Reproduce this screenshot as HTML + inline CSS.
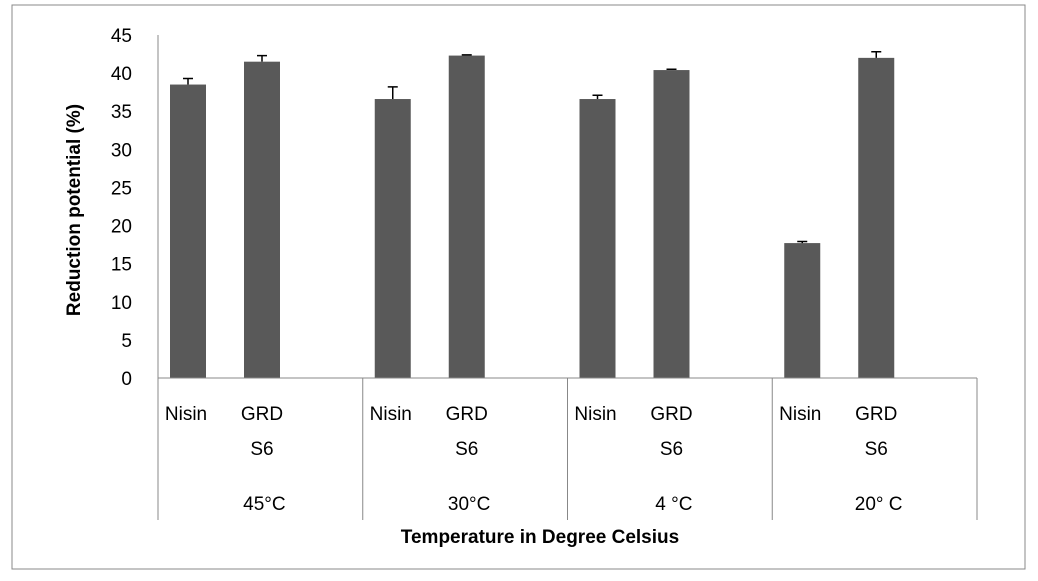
<!DOCTYPE html>
<html><head><meta charset="utf-8"><style>
body{margin:0;background:#fff;}
svg text{font-family:"Liberation Sans",sans-serif;fill:#000;}
</style></head><body>
<svg width="1038" height="576">
<rect x="12" y="5" width="1013" height="564" fill="#fff" stroke="#888" stroke-width="1"/>
<g id="yaxis"></g>
<g id="bars"></g>
<g id="xaxis"></g>
<text x="80" y="210" font-size="19" font-weight="bold" text-anchor="middle" transform="rotate(-90 80 210)">Reduction potential (%)</text>
<text x="540" y="543" font-size="19" font-weight="bold" text-anchor="middle">Temperature in Degree Celsius</text>
</svg>
<script>
const groups=["45°C","30°C","4 °C","20° C"];
const nisin=[38.5,36.6,36.6,17.7];
const nisinErr=[0.8,1.6,0.5,0.2];
const grd=[41.5,42.3,40.4,42.0];
const grdErr=[0.8,0.1,0.1,0.8];
const yTicks=[0,5,10,15,20,25,30,35,40,45];
const NS="http://www.w3.org/2000/svg";
const svg=document.querySelector('svg');
const x0=158,x1=977,y0=378,yTop=35,yMax=45;
const y=v=>y0-(v/yMax)*(y0-yTop);
const gw=(x1-x0)/groups.length;
function mk(tag,attrs,parent,text){const e=document.createElementNS(NS,tag);for(const k in attrs)e.setAttribute(k,attrs[k]);if(text!==undefined)e.textContent=text;parent.appendChild(e);return e;}
const ya=document.getElementById('yaxis'),ba=document.getElementById('bars'),xa=document.getElementById('xaxis');
yTicks.forEach(t=>{const e=mk('text',{x:132,y:y(t)+7,'font-size':19,'text-anchor':'end'},ya,t);

});
mk('line',{x1:x0,y1:yTop,x2:x0,y2:y0,stroke:'#888'},ya);
mk('line',{x1:x0,y1:y0,x2:x1,y2:y0,stroke:'#888'},xa);
function bar(cx,v,err,name){
const r=mk('rect',{x:cx-18,y:y(v),width:36,height:y0-y(v),fill:'#595959'},ba);


const ey=y(v+err);
const l=mk('path',{d:`M${cx} ${y(v)}V${ey}M${cx-5} ${ey}H${cx+5}`,stroke:'#000','stroke-width':1.5,fill:'none'},ba);

}
groups.forEach((g,i)=>{
const gx=x0+i*gw;
bar(gx+30,nisin[i],nisinErr[i],'bar-nisin-'+i);
bar(gx+104,grd[i],grdErr[i],'bar-grd-'+i);
const t1=mk('text',{x:gx+28,y:420,'font-size':19,'text-anchor':'middle'},xa,'Nisin');


const t2=mk('text',{x:gx+104,y:420,'font-size':19,'text-anchor':'middle'},xa,'GRD');


const t3=mk('text',{x:gx+104,y:455,'font-size':19,'text-anchor':'middle'},xa,'S6');


const t4=mk('text',{x:gx+gw/2+4,y:510,'font-size':19,'text-anchor':'middle'},xa,g);


});
for(let i=0;i<=groups.length;i++){mk('line',{x1:x0+i*gw,y1:y0,x2:x0+i*gw,y2:520,stroke:'#888'},xa);}
</script>
</body></html>
